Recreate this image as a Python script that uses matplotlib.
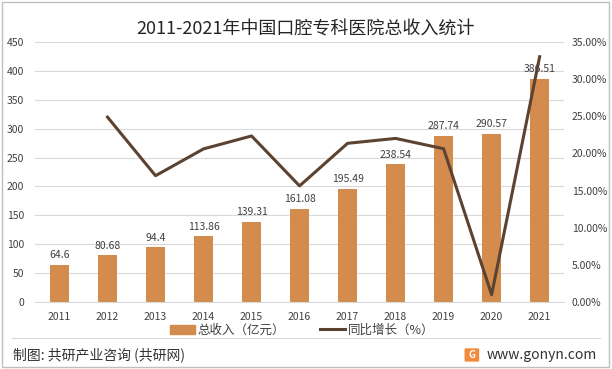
import matplotlib
matplotlib.use("Agg")
import matplotlib.pyplot as plt
from matplotlib.patches import Rectangle, FancyBboxPatch
from matplotlib.lines import Line2D

plt.rcParams['font.family'] = ['Noto Sans CJK SC', 'DejaVu Sans']

# ----------------------------------------------------------------------
# data
# ----------------------------------------------------------------------
years = ['2011', '2012', '2013', '2014', '2015', '2016',
         '2017', '2018', '2019', '2020', '2021']
revenue = [64.6, 80.68, 94.4, 113.86, 139.31, 161.08,
           195.49, 238.54, 287.74, 290.57, 386.51]
growth_years = years[1:]
growth = [24.89, 17.00, 20.61, 22.35, 15.63, 21.36, 22.02, 20.63, 0.98, 33.02]

bar_color = '#D48B4E'
line_color = '#5C4331'
text_color = '#404040'

fig = plt.figure(figsize=(6.12, 3.69), dpi=100)
ax = fig.add_axes([0.058, 0.1816, 0.863, 0.7046])

x = range(len(years))
ax.bar(x, revenue, width=0.4, color=bar_color, zorder=2)
for xi, v in zip(x, revenue):
    ax.text(xi, v + 8, f'{v:g}', ha='center', va='bottom', fontsize=7.5, color=text_color)

ax.set_ylim(0, 450)
ax.set_yticks(range(0, 451, 50))
ax.set_xlim(-0.5, len(years) - 0.5)
ax.set_xticks(list(x))
ax.set_xticklabels(years)
ax.grid(axis='y', color='#D9D9D9', linewidth=0.8, zorder=0)
for s in ax.spines.values():
    s.set_visible(False)
ax.spines['bottom'].set_visible(True)
ax.spines['bottom'].set_color('#D9D9D9')
ax.tick_params(axis='both', length=0, labelsize=7.5, colors=text_color)
ax.tick_params(axis='y', pad=8)
ax.tick_params(axis='x', pad=7)

ax2 = ax.twinx()
gx = [years.index(y) for y in growth_years]
ax2.plot(gx, growth, color=line_color, linewidth=2.2, zorder=3)
ax2.set_ylim(0, 35)
ax2.set_yticks(range(0, 36, 5))
ax2.set_yticklabels([f'{v:.2f}%' for v in range(0, 36, 5)])
for s in ax2.spines.values():
    s.set_visible(False)
ax2.tick_params(axis='y', length=0, labelsize=7.5, colors=text_color, pad=6)

fig.text(0.5, 0.921, '2011-2021年中国口腔专科医院总收入统计', ha='center', va='center',
         fontsize=13, color='#262626')

# legend
handles = [Rectangle((0, 0), 1, 1, color=bar_color),
           Line2D([0], [0], color=line_color, linewidth=2.2)]
fig.legend(handles, ['总收入（亿元）', '同比增长（%）'], loc='center',
           bbox_to_anchor=(0.494, 0.105), ncol=2, frameon=False, fontsize=9,
           handlelength=2.0, handleheight=0.7, handletextpad=0.2,
           columnspacing=2.8, labelcolor=text_color)

# footer
fig.add_artist(Line2D([0.02, 0.98], [0.084, 0.084], transform=fig.transFigure,
                      color='#D9D9D9', linewidth=0.8))
fig.text(0.021, 0.038, '制图: 共研产业咨询 (共研网)', ha='left', va='center',
         fontsize=10, color='#333333')
fig.text(0.976, 0.038, 'www.gonyn.com', ha='right', va='center',
         fontsize=10, color='#333333')
logo = FancyBboxPatch((0.761, 0.022), 0.020, 0.032, boxstyle='round,pad=0.002',
                      transform=fig.transFigure, facecolor='#F08A3C', edgecolor='none')
fig.patches.append(logo)
fig.text(0.771, 0.038, 'G', ha='center', va='center', fontsize=7, color='white',
         fontweight='bold')

border = Rectangle((0.004, 0.006), 0.991, 0.988, transform=fig.transFigure,
                   fill=False, edgecolor='#BFBFBF', linewidth=1)
fig.patches.append(border)

fig.savefig('out.png', dpi=100)
